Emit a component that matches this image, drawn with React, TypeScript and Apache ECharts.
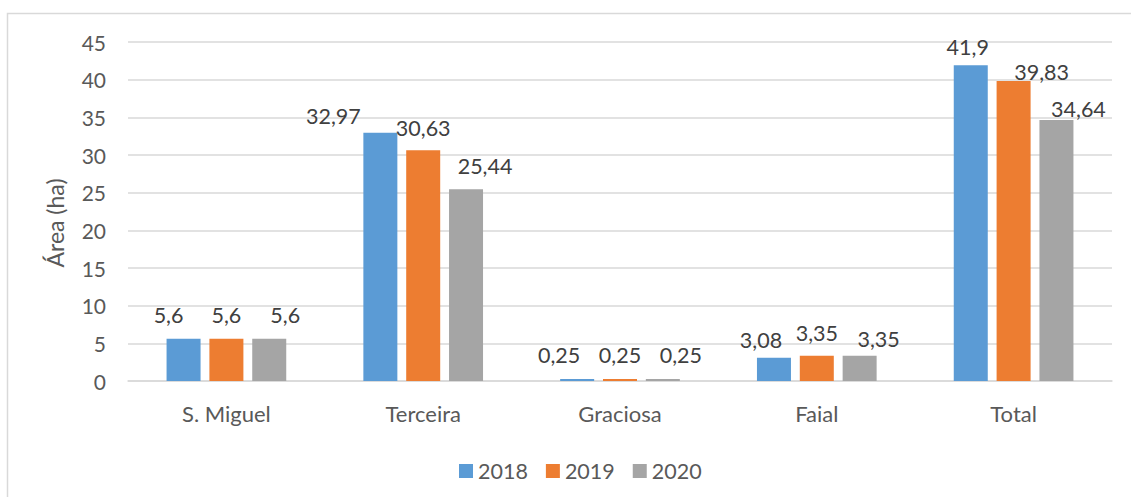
import React, { useEffect, useRef } from "react";
import * as echarts from "echarts";

const categories = ["S. Miguel", "Terceira", "Graciosa", "Faial", "Total"];
const seriesNames = ["2018", "2019", "2020"];
const values2018 = [5.6, 32.97, 0.25, 3.08, 41.9];
const values2019 = [5.6, 30.63, 0.25, 3.35, 39.83];
const values2020 = [5.6, 25.44, 0.25, 3.35, 34.64];
const yTicks = { min: 0, max: 45, interval: 5 };
const yTitle = "Área (ha)";

// label nudges (dx, dy) per series / category, as placed in the reference
const labelNudges2018 = [[-15, 0], [-47, 7], [-18, 0], [-13, 6], [-3, 6]];
const labelNudges2019 = [[0, 0], [0, 2], [0, 0], [0, 1], [28, 15]];
const labelNudges2020 = [[16, 0], [19, 1], [18, 0], [19, 7], [22, 13]];

const colors = ["#5B9BD5", "#ED7D31", "#A5A5A5"];
const FONT = "Lato, 'Open Sans', sans-serif";

const fmt = (v: number) => String(v).replace(".", ",");

export default function App() {
  const ref = useRef<HTMLDivElement>(null);
  useEffect(() => {
    if (!ref.current) return;
    const chart = echarts.init(ref.current, null, { renderer: "svg" });
    const all = [values2018, values2019, values2020];
    const nudges = [labelNudges2018, labelNudges2019, labelNudges2020];
    chart.setOption({
      animation: false,
      textStyle: { fontFamily: FONT },
      grid: { left: 128, right: 19, top: 42, bottom: 116, containLabel: false },
      legend: {
        data: seriesNames,
        left: 454,
        top: 455,
        icon: "rect",
        itemWidth: 14,
        itemHeight: 14,
        itemGap: 18,
        textStyle: { fontSize: 21.5, color: "#595959", fontFamily: FONT },
      },
      xAxis: {
        type: "category",
        data: categories,
        axisLine: { show: true, lineStyle: { color: "#D9D9D9", width: 1.5 } },
        axisTick: { show: false },
        axisLabel: { fontSize: 22, color: "#595959", margin: 21, fontFamily: FONT },
      },
      yAxis: {
        type: "value",
        min: yTicks.min,
        max: yTicks.max,
        interval: yTicks.interval,
        axisLine: { show: false },
        axisTick: { show: false },
        splitLine: { lineStyle: { color: "#D9D9D9", width: 1.5 } },
        axisLabel: { fontSize: 21, color: "#595959", margin: 22, fontFamily: FONT },
      },
      graphic: [
        {
          type: "rect",
          shape: { x: 7.5, y: 13.5, width: 1200, height: 600 },
          style: { fill: "none", stroke: "#D9D9D9", lineWidth: 1.5 },
          silent: true,
        },
        {
          type: "text",
          x: 55,
          y: 223,
          rotation: Math.PI / 2,
          style: {
            text: yTitle,
            fontSize: 23,
            fill: "#595959",
            fontFamily: FONT,
            align: "center",
            verticalAlign: "middle",
          },
        },
      ],
      series: seriesNames.map((name, si) => ({
        name,
        type: "bar",
        barWidth: 34,
        barGap: "26%",
        itemStyle: { color: colors[si] },
        data: all[si].map((v, ci) => ({
          value: v,
          label: { offset: nudges[si][ci] },
        })),
        label: {
          show: true,
          position: "top",
          distance: 13,
          fontSize: 21.5,
          color: "#404040",
          fontFamily: FONT,
          formatter: (p: any) => fmt(p.value),
        },
      })),
    });
    return () => chart.dispose();
  }, []);
  return (
    <div
      ref={ref}
      style={{ position: "fixed", left: 0, top: 0, width: 1131, height: 497, background: "#fff" }}
    />
  );
}
